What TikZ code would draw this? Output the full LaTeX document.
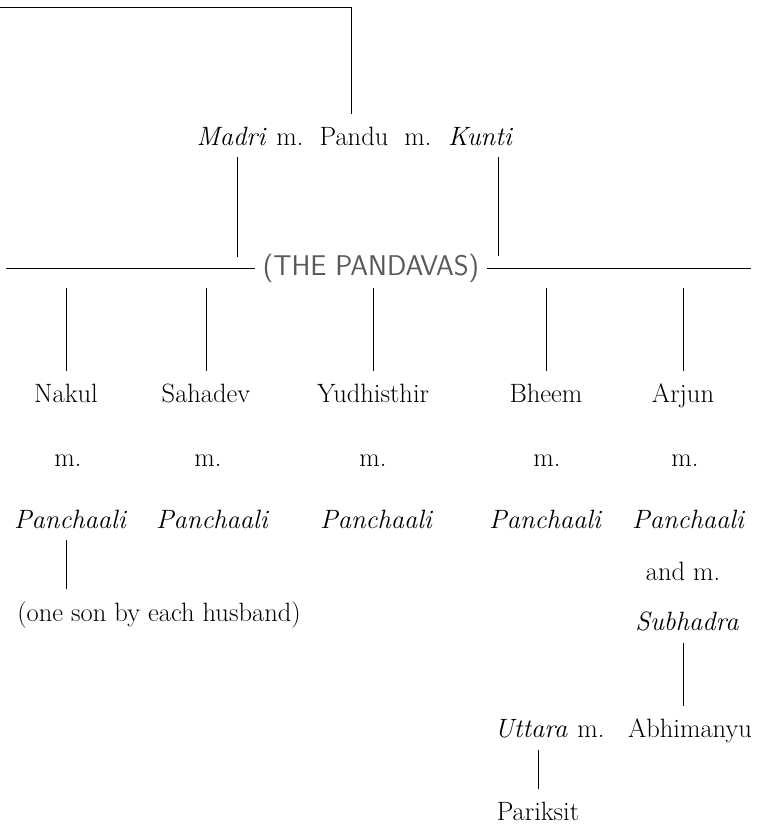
\documentclass[tikz,border=0pt]{standalone}
\usepackage{fontspec}
\usepackage{xcolor}
\usepackage{tikz}
\usetikzlibrary{positioning}

\begin{document}
\begin{tikzpicture}[x=1pt, y=-1pt,
    person/.style={anchor=base, inner xsep=0pt, inner ysep=12pt, font=\fontsize{26.5}{30}\selectfont},
    spouse/.style={person, font=\fontsize{26.5}{30}\selectfont\itshape},
    link/.style={line width=0.9pt}]

    \useasboundingbox (0,0) rectangle (756,825);

    % Pandu and his two wives
    \node[spouse] (madri) at (231,145) {Madri};
    \node[person] (mMadri) at (290,145) {m.};
    \node[person] (pandu) at (354,145) {Pandu};
    \node[person] (mKunti) at (418,145) {m.};
    \node[spouse] (kunti) at (480,145) {Kunti};

    % Label in the middle of the sons' line
    \node[anchor=base, inner xsep=8pt, inner ysep=6pt, text=black!65,
          font=\sffamily\fontsize{28.5}{30}\selectfont] (pandavas) at (371,275) {(THE PANDAVAS)};

    % The five sons
    \node[person] (nakul) at (66,402) {Nakul};
    \node[person] (sahadev) at (206,402) {Sahadev};
    \node[person] (yudhisthir) at (373,402) {Yudhisthir};
    \node[person] (bheem) at (546,402) {Bheem};
    \node[person] (arjun) at (683,402) {Arjun};

    \node[person] (mNakul) at (68,466) {m.};
    \node[person] (mSahadev) at (208,466) {m.};
    \node[person] (mYudhisthir) at (373,466) {m.};
    \node[person] (mBheem) at (547,466) {m.};
    \node[person] (mArjun) at (685,466) {m.};

    \node[spouse] (panchaaliN) at (70,528) {Panchaali};
    \node[spouse] (panchaaliS) at (212,528) {Panchaali};
    \node[spouse] (panchaaliY) at (376,528) {Panchaali};
    \node[spouse] (panchaaliB) at (545,528) {Panchaali};
    \node[spouse] (panchaaliA) at (688,528) {Panchaali};

    \node[person] (andM) at (683,580) {and m.};
    \node[spouse] (subhadra) at (687,630) {Subhadra};
    \node[person] (sons) at (159,621) {(one son by each husband)};

    % Next generations
    \node[spouse] (uttara) at (531,737) {Uttara};
    \node[person] (mUttara) at (591,737) {m.};
    \node[person] (abhimanyu) at (690,737) {Abhimanyu};
    \node[person] (pariksit) at (538,820) {Pariksit};

    % Free ends of the lines
    \coordinate (topL) at (0,7);
    \coordinate (topR) at (351,7);
    \coordinate (panduTop) at (351,114);
    \coordinate (madriFoot) at (237,257);
    \coordinate (kuntiFoot) at (498,256);
    \coordinate (rowL) at (6,268);
    \coordinate (rowR) at (751,268);

    % Lines of descent
    \draw[link] (topL) -- (topR) -- (panduTop);
    \draw[link] (madri.south -| madriFoot) -- (madriFoot);
    \draw[link] (kunti.south -| kuntiFoot) -- (kuntiFoot);
    \draw[link] (rowL) -- (rowL -| pandavas.west);
    \draw[link] (pandavas.east |- rowR) -- (rowR);

    \draw[link] (pandavas.south -| nakul.north) -- (nakul.north);
    \draw[link] (pandavas.south -| sahadev.north) -- (sahadev.north);
    \draw[link] (pandavas.south -| yudhisthir.north) -- (yudhisthir.north);
    \draw[link] (pandavas.south -| bheem.north) -- (bheem.north);
    \draw[link] (pandavas.south -| arjun.north) -- (arjun.north);

    \draw[link] (nakul.south |- panchaaliN.south) -- (nakul.south |- sons.north);
    \draw[link] (arjun.south |- subhadra.south) -- (arjun.south |- abhimanyu.north);
    \draw[link] (pariksit.north |- uttara.south) -- (pariksit.north);

\end{tikzpicture}
\end{document}
